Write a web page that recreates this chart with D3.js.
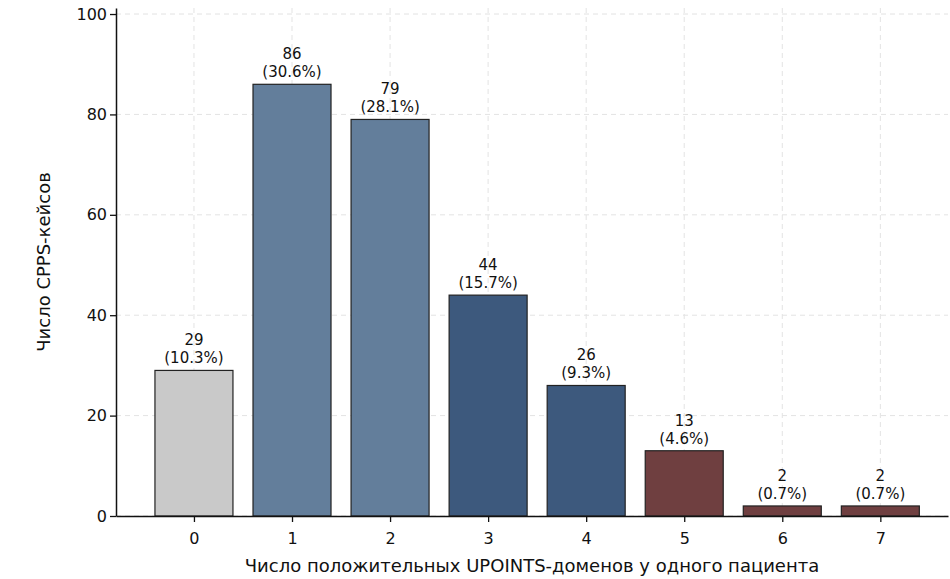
<!DOCTYPE html>
<html><head><meta charset="utf-8">
<script src="https://cdn.jsdelivr.net/npm/d3@7"></script>
<style>body{margin:0;background:#fff}text{font-family:"DejaVu Sans",sans-serif}</style>
</head><body><svg id="c" width="950" height="579"></svg>
<script>
const categories=[0,1,2,3,4,5,6,7];
const counts=[29,86,79,44,26,13,2,2];
const percents=["10.3%","30.6%","28.1%","15.7%","9.3%","4.6%","0.7%","0.7%"];
const groups=["none","low","low","mid","mid","high","high","high"];
const yTicks=[0,20,40,60,80,100];
const colors={none:"#c9c9c9",low:"#637e9b",mid:"#3d597d",high:"#6f3f40"};
const svg=d3.select("#c");
const x=d3.scaleLinear().domain([-0.795,7.69]).range([116,948]);
const y=d3.scaleLinear().domain([0,101.2]).range([516,8]);
const bw=78;
// grid
svg.append("g").selectAll("line.h").data(yTicks).join("line").attr("x1",116).attr("x2",948)
 .attr("y1",d=>y(d)).attr("y2",d=>y(d)).attr("stroke","#e3e3e3").attr("stroke-dasharray","5,4");
svg.append("g").selectAll("line.v").data(categories).join("line").attr("y1",8).attr("y2",516)
 .attr("x1",d=>x(d)).attr("x2",d=>x(d)).attr("stroke","#e3e3e3").attr("stroke-dasharray","5,4");
svg.append("g").selectAll("rect").data(categories).join("rect")
 .attr("x",d=>x(d)-bw/2).attr("width",bw).attr("y",(d,i)=>y(counts[i])).attr("height",(d,i)=>y(0)-y(counts[i]))
 .attr("fill",(d,i)=>colors[groups[i]]).attr("stroke","#222").attr("stroke-width",1.2);
const lab=svg.append("g").selectAll("text").data(categories).join("text").attr("text-anchor","middle")
 .attr("font-size",15).attr("fill","#111");
lab.append("tspan").attr("x",d=>x(d)).attr("y",(d,i)=>y(counts[i])-25).text((d,i)=>counts[i]);
lab.append("tspan").attr("x",d=>x(d)).attr("y",(d,i)=>y(counts[i])-7).text((d,i)=>"("+percents[i]+")");
const xa=svg.append("g").attr("transform","translate(0,516)").call(d3.axisBottom(x).tickValues(categories).tickFormat(d3.format("d")).tickSize(6).tickSizeOuter(0));
const ya=svg.append("g").attr("transform","translate(116,0)").call(d3.axisLeft(y).tickValues(yTicks).tickSize(6).tickSizeOuter(0));
[xa,ya].forEach(a=>{a.selectAll("text").attr("font-size",16).attr("fill","#111");a.select(".domain").attr("stroke","#111").attr("stroke-width",1.5);a.selectAll(".tick line").attr("stroke","#111").attr("stroke-width",1.3);});
xa.selectAll("text").attr("dy","1.2em");
svg.append("text").attr("x",532).attr("y",572).attr("text-anchor","middle").attr("font-size",18).attr("fill","#111")
 .text("Число положительных UPOINTS-доменов у одного пациента");
svg.append("text").attr("transform","translate(50,262) rotate(-90)").attr("text-anchor","middle").attr("font-size",18).attr("fill","#111")
 .text("Число CPPS-кейсов");
</script></body></html>
